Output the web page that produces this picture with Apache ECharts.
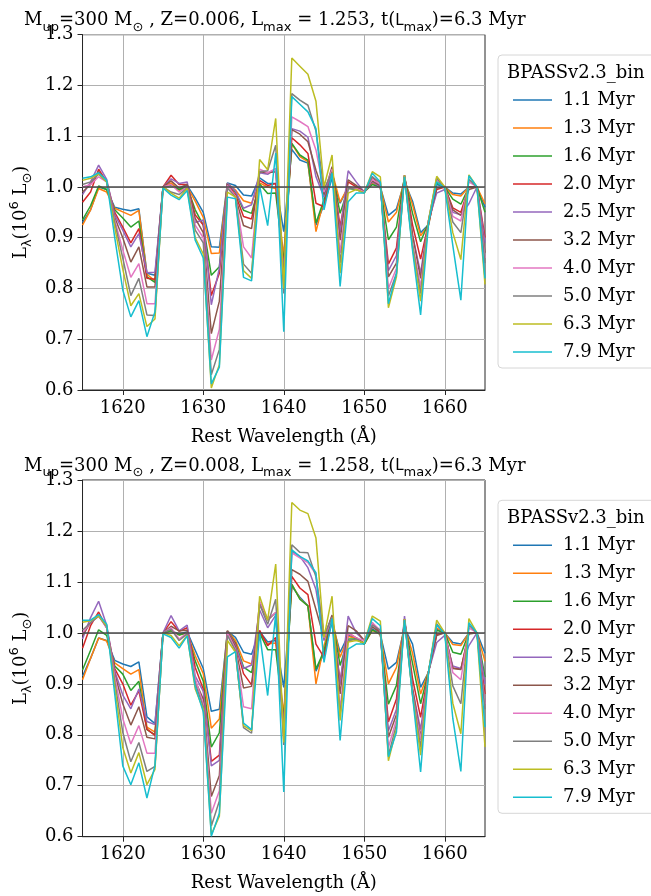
<!DOCTYPE html>
<html>
<head>
<meta charset="utf-8">
<script src="https://cdn.jsdelivr.net/npm/echarts@6/dist/echarts.min.js"></script>
<style>
  html, body { margin: 0; padding: 0; background: #ffffff; }
  #chart { width: 651px; height: 896px; }
</style>
</head>
<body>
<div id="chart"></div>
<script>
// Rest wavelength grid (Angstrom), 1 A sampling
const wavelength = [1615, 1616, 1617, 1618, 1619, 1620, 1621, 1622, 1623, 1624,
  1625, 1626, 1627, 1628, 1629, 1630, 1631, 1632, 1633, 1634,
  1635, 1636, 1637, 1638, 1639, 1640, 1641, 1642, 1643, 1644,
  1645, 1646, 1647, 1648, 1649, 1650, 1651, 1652, 1653, 1654,
  1655, 1656, 1657, 1658, 1659, 1660, 1661, 1662, 1663, 1664, 1665];

const ageLabels = ['1.1 Myr', '1.3 Myr', '1.6 Myr', '2.0 Myr', '2.5 Myr',
  '3.2 Myr', '4.0 Myr', '5.0 Myr', '6.3 Myr', '7.9 Myr'];

const xTicks = [1620, 1630, 1640, 1650, 1660];
const yMin = 0.6, yMax = 1.3, yStep = 0.1;

// ---- Z = 0.006 ----
const z006_t11 = [0.930, 0.955, 1.000, 0.995, 0.960, 0.956, 0.953, 0.957, 0.830, 0.826,
  1.000, 1.006, 0.995, 1.003, 0.978, 0.950, 0.882, 0.881, 1.008, 1.003,
  0.984, 0.982, 1.018, 1.007, 1.007, 0.912, 1.074, 1.053, 1.047, 0.925,
  0.965, 1.017, 0.968, 1.000, 0.997, 0.990, 1.010, 1.000, 0.944, 0.957,
  1.010, 0.972, 0.910, 0.926, 1.005, 1.000, 0.988, 0.986, 1.000, 1.000, 0.960];
const z006_t13 = [0.925, 0.955, 0.997, 0.990, 0.958, 0.951, 0.944, 0.954, 0.828, 0.815,
  1.000, 1.008, 0.993, 1.000, 0.972, 0.940, 0.869, 0.870, 1.007, 0.994,
  0.973, 0.968, 1.008, 1.000, 0.997, 0.865, 1.085, 1.060, 1.050, 0.912,
  0.975, 1.030, 0.970, 1.000, 0.997, 0.990, 1.008, 1.000, 0.931, 0.950,
  1.015, 0.965, 0.904, 0.925, 1.010, 1.000, 0.985, 0.982, 1.000, 1.000, 0.967];
const z006_t16 = [0.935, 0.963, 1.002, 0.995, 0.955, 0.939, 0.921, 0.933, 0.823, 0.812,
  1.000, 1.003, 0.995, 1.000, 0.955, 0.925, 0.826, 0.843, 1.007, 0.990,
  0.954, 0.948, 1.006, 0.987, 0.988, 0.850, 1.086, 1.063, 1.053, 0.929,
  0.975, 1.030, 0.948, 0.997, 0.995, 0.990, 1.005, 1.000, 0.896, 0.921,
  1.020, 0.948, 0.892, 0.930, 1.008, 1.000, 0.976, 0.966, 1.000, 1.000, 0.950];
const z006_t20 = [0.970, 0.990, 1.035, 1.010, 0.950, 0.921, 0.890, 0.918, 0.820, 0.818,
  1.000, 1.023, 1.005, 1.005, 0.945, 0.925, 0.786, 0.830, 1.006, 0.985,
  0.942, 0.937, 1.013, 1.003, 1.007, 0.840, 1.097, 1.083, 1.066, 0.968,
  0.961, 1.035, 0.922, 1.010, 1.000, 0.990, 1.020, 1.000, 0.848, 0.880,
  1.023, 0.925, 0.858, 0.930, 0.995, 1.000, 0.959, 0.950, 1.000, 1.000, 0.900];
const z006_t25 = [0.985, 1.010, 1.043, 1.015, 0.945, 0.915, 0.882, 0.908, 0.831, 0.832,
  1.000, 1.016, 1.007, 1.010, 0.930, 0.935, 0.768, 0.840, 1.007, 0.992,
  0.958, 0.965, 1.028, 1.025, 1.036, 0.830, 1.115, 1.110, 1.098, 1.020,
  0.980, 1.035, 0.910, 1.032, 1.010, 0.990, 1.010, 1.000, 0.835, 0.865,
  1.023, 0.905, 0.830, 0.935, 0.988, 0.995, 0.950, 0.945, 0.967, 1.000, 0.890];
const z006_t32 = [0.990, 1.005, 1.030, 1.010, 0.940, 0.900, 0.852, 0.882, 0.803, 0.803,
  1.000, 1.012, 0.998, 1.005, 0.938, 0.910, 0.711, 0.775, 1.005, 0.980,
  0.924, 0.918, 1.030, 1.028, 1.030, 0.820, 1.113, 1.104, 1.089, 1.033,
  0.985, 1.040, 0.895, 1.014, 1.003, 0.990, 1.012, 1.002, 0.823, 0.850,
  1.023, 0.905, 0.820, 0.935, 0.998, 1.000, 0.955, 0.944, 0.995, 1.000, 0.870];
const z006_t40 = [1.000, 1.005, 1.020, 1.010, 0.935, 0.876, 0.822, 0.849, 0.770, 0.770,
  1.000, 1.005, 0.990, 1.000, 0.925, 0.900, 0.659, 0.720, 1.003, 0.982,
  0.882, 0.860, 1.035, 1.028, 1.036, 0.800, 1.138, 1.129, 1.119, 1.073,
  0.990, 1.035, 0.870, 1.000, 0.997, 0.990, 1.015, 1.005, 0.800, 0.840,
  1.022, 0.890, 0.803, 0.935, 1.015, 1.000, 0.942, 0.933, 1.010, 1.000, 0.860];
const z006_t50 = [1.005, 1.010, 1.025, 1.010, 0.930, 0.860, 0.786, 0.820, 0.748, 0.747,
  1.000, 0.990, 0.985, 0.998, 0.915, 0.890, 0.630, 0.680, 0.998, 0.980,
  0.848, 0.830, 1.030, 1.032, 1.082, 0.790, 1.184, 1.171, 1.161, 1.110,
  0.995, 1.030, 0.850, 0.998, 0.995, 0.988, 1.020, 1.008, 0.785, 0.830,
  1.022, 0.885, 0.790, 0.935, 1.018, 0.997, 0.931, 0.910, 1.015, 1.000, 0.850];
const z006_t63 = [1.013, 1.017, 1.026, 1.010, 0.920, 0.838, 0.766, 0.790, 0.725, 0.740,
  1.000, 0.988, 0.978, 0.997, 0.900, 0.868, 0.604, 0.650, 0.990, 0.980,
  0.835, 0.820, 1.054, 1.034, 1.135, 0.800, 1.254, 1.238, 1.222, 1.169,
  1.000, 1.063, 0.830, 0.988, 0.995, 0.988, 1.030, 1.020, 0.762, 0.823,
  1.023, 0.880, 0.775, 0.935, 1.021, 1.000, 0.910, 0.857, 1.024, 1.000, 0.808];
const z006_t79 = [1.017, 1.020, 1.028, 1.013, 0.900, 0.797, 0.744, 0.776, 0.705, 0.754,
  0.998, 0.984, 0.975, 0.993, 0.895, 0.860, 0.612, 0.645, 0.980, 0.977,
  0.822, 0.815, 1.002, 0.924, 1.067, 0.715, 1.178, 1.163, 1.148, 1.115,
  0.955, 1.027, 0.804, 0.971, 0.988, 0.988, 1.027, 1.010, 0.770, 0.829,
  1.020, 0.875, 0.748, 0.930, 1.010, 0.998, 0.885, 0.777, 1.022, 1.000, 0.820];

// ---- Z = 0.008 ----
const z008_t11 = [0.915, 0.950, 0.990, 0.985, 0.946, 0.939, 0.934, 0.943, 0.835, 0.822,
  1.000, 1.004, 0.998, 1.002, 0.966, 0.930, 0.846, 0.850, 1.003, 0.991,
  0.962, 0.958, 1.003, 0.982, 0.985, 0.893, 1.092, 1.070, 1.053, 0.925,
  0.960, 1.020, 0.962, 0.995, 0.990, 0.978, 1.008, 0.997, 0.929, 0.942,
  1.010, 0.978, 0.893, 0.923, 1.007, 1.000, 0.981, 0.978, 1.000, 1.000, 0.960];
const z008_t13 = [0.908, 0.950, 0.990, 0.984, 0.941, 0.930, 0.919, 0.928, 0.815, 0.805,
  1.000, 1.004, 0.996, 1.000, 0.955, 0.920, 0.813, 0.831, 1.004, 0.985,
  0.945, 0.939, 1.000, 0.978, 0.980, 0.840, 1.095, 1.067, 1.053, 0.900,
  0.975, 1.030, 0.952, 0.993, 0.990, 0.978, 1.005, 0.997, 0.900, 0.932,
  1.015, 0.960, 0.880, 0.925, 1.010, 1.000, 0.977, 0.975, 1.000, 1.000, 0.944];
const z008_t16 = [0.927, 0.966, 1.006, 0.995, 0.935, 0.919, 0.887, 0.905, 0.810, 0.800,
  1.000, 1.004, 0.996, 1.000, 0.945, 0.905, 0.776, 0.804, 1.004, 0.980,
  0.933, 0.922, 1.000, 0.967, 0.967, 0.830, 1.095, 1.066, 1.053, 0.929,
  0.965, 1.030, 0.936, 0.988, 0.988, 0.978, 1.006, 0.997, 0.860, 0.897,
  1.020, 0.940, 0.861, 0.925, 1.005, 1.000, 0.962, 0.958, 1.000, 1.000, 0.913];
const z008_t20 = [0.970, 1.014, 1.041, 1.010, 0.930, 0.900, 0.858, 0.886, 0.811, 0.799,
  1.000, 1.022, 1.003, 1.010, 0.932, 0.890, 0.748, 0.760, 1.003, 0.978,
  0.920, 0.898, 1.005, 0.975, 0.991, 0.820, 1.111, 1.088, 1.075, 0.978,
  0.952, 1.030, 0.905, 1.000, 0.990, 0.980, 1.020, 1.000, 0.825, 0.870,
  1.027, 0.910, 0.834, 0.925, 0.997, 1.000, 0.931, 0.929, 1.000, 1.000, 0.880];
const z008_t25 = [0.988, 1.030, 1.062, 1.015, 0.925, 0.878, 0.851, 0.890, 0.826, 0.820,
  1.000, 1.034, 1.004, 1.015, 0.915, 0.885, 0.739, 0.750, 1.004, 0.975,
  0.930, 0.937, 1.045, 1.010, 1.035, 0.810, 1.160, 1.150, 1.128, 1.085,
  0.985, 1.033, 0.900, 1.033, 1.000, 0.985, 1.012, 1.000, 0.808, 0.850,
  1.033, 0.890, 0.810, 0.925, 0.981, 0.995, 0.935, 0.930, 0.975, 1.000, 0.900];
const z008_t32 = [0.995, 1.020, 1.035, 1.010, 0.920, 0.861, 0.819, 0.855, 0.795, 0.792,
  1.000, 1.013, 1.004, 1.005, 0.906, 0.870, 0.679, 0.720, 1.003, 0.972,
  0.892, 0.895, 1.060, 1.025, 1.040, 0.800, 1.124, 1.115, 1.101, 1.046,
  0.990, 1.035, 0.880, 1.014, 1.004, 0.985, 1.012, 1.000, 0.795, 0.840,
  1.027, 0.890, 0.795, 0.925, 0.995, 1.000, 0.930, 0.928, 0.998, 1.000, 0.860];
const z008_t40 = [1.000, 1.020, 1.033, 1.010, 0.915, 0.832, 0.782, 0.818, 0.764, 0.764,
  1.000, 1.010, 0.988, 1.000, 0.910, 0.860, 0.646, 0.690, 1.000, 0.968,
  0.855, 0.851, 1.062, 1.028, 1.040, 0.790, 1.157, 1.147, 1.138, 1.115,
  0.990, 1.030, 0.850, 1.000, 0.990, 0.985, 1.020, 1.005, 0.775, 0.830,
  1.027, 0.880, 0.790, 0.925, 1.015, 1.000, 0.922, 0.908, 1.010, 1.000, 0.860];
const z008_t50 = [1.005, 1.020, 1.033, 1.012, 0.905, 0.805, 0.747, 0.785, 0.728, 0.738,
  1.000, 1.007, 0.985, 0.998, 0.900, 0.855, 0.621, 0.670, 0.995, 0.965,
  0.814, 0.803, 1.056, 1.017, 1.066, 0.780, 1.173, 1.158, 1.157, 1.110,
  0.995, 1.030, 0.840, 0.984, 0.988, 0.980, 1.015, 1.005, 0.760, 0.820,
  1.027, 0.880, 0.775, 0.925, 1.018, 0.997, 0.896, 0.861, 1.015, 1.000, 0.850];
const z008_t63 = [1.021, 1.024, 1.033, 1.014, 0.895, 0.775, 0.725, 0.765, 0.702, 0.732,
  1.000, 0.995, 0.975, 0.995, 0.890, 0.850, 0.604, 0.640, 0.985, 0.962,
  0.818, 0.808, 1.072, 1.025, 1.135, 0.785, 1.256, 1.241, 1.234, 1.186,
  0.991, 1.072, 0.828, 0.982, 0.985, 0.980, 1.033, 1.023, 0.749, 0.812,
  1.027, 0.877, 0.760, 0.925, 1.025, 1.000, 0.862, 0.802, 1.028, 1.000, 0.776];
const z008_t79 = [1.025, 1.025, 1.036, 1.017, 0.880, 0.739, 0.702, 0.745, 0.676, 0.740,
  0.998, 0.991, 0.970, 0.994, 0.895, 0.845, 0.601, 0.646, 0.953, 0.963,
  0.823, 0.810, 1.000, 0.877, 1.038, 0.688, 1.163, 1.150, 1.141, 1.118,
  0.942, 1.028, 0.789, 0.968, 0.978, 0.978, 1.028, 1.014, 0.757, 0.805,
  1.025, 0.877, 0.727, 0.925, 1.016, 0.998, 0.832, 0.728, 1.020, 1.000, 0.815];

const z006Series = [z006_t11, z006_t13, z006_t16, z006_t20, z006_t25,
  z006_t32, z006_t40, z006_t50, z006_t63, z006_t79];
const z008Series = [z008_t11, z008_t13, z008_t16, z008_t20, z008_t25,
  z008_t32, z008_t40, z008_t50, z008_t63, z008_t79];

const palette = ['#1f77b4', '#ff7f0e', '#2ca02c', '#d62728', '#9467bd',
  '#8c564b', '#e377c2', '#7f7f7f', '#bcbd22', '#17becf'];

const SERIF = 'DejaVu Serif';
const SANS = 'DejaVu Sans';
const FS = 18;

// rich-text styles emulating mathtext sub/superscripts
const richMath = {
  n: { fontFamily: SERIF, fontSize: FS, fontWeight: 'normal', lineHeight: 26, color: '#000', verticalAlign: 'middle' },
  s: { fontFamily: SANS, fontSize: 13, fontWeight: 'normal', lineHeight: 13, color: '#000', verticalAlign: 'bottom' },
  p: { fontFamily: SANS, fontSize: 13, fontWeight: 'normal', lineHeight: 16, color: '#000', verticalAlign: 'top' },
  m: { fontFamily: SANS, fontSize: 15, fontWeight: 'normal', lineHeight: 26, color: '#000', verticalAlign: 'middle' }
};

const panels = [
  { data: z006Series, z: '0.006', lmax: '1.253', tmax: '6.3', top: 34.7, height: 355.3 },
  { data: z008Series, z: '0.008', lmax: '1.258', tmax: '6.3', top: 480, height: 356.7 }
];

const gridLeft = 74, gridWidth = 411;

const option = {
  animation: false,
  backgroundColor: '#ffffff',
  title: [],
  grid: [],
  xAxis: [],
  yAxis: [],
  legend: [],
  graphic: [],
  series: []
};

panels.forEach((p, pi) => {
  option.title.push({
    text: '{n|M}{s|up}{n|=300 M}{s|⊙}{n| , Z=' + p.z + ', L}{s|max}{n| = ' + p.lmax +
          ', t(}{m|L}{s|max}{n|)=' + p.tmax + ' Myr}',
    left: 24,
    top: p.top - 27,
    padding: 0,
    textStyle: { fontWeight: 'normal', rich: richMath }
  });

  option.grid.push({
    left: gridLeft, top: p.top, width: gridWidth, height: p.height,
    show: true, borderColor: '#262626', borderWidth: 1, backgroundColor: 'transparent'
  });

  option.xAxis.push({
    type: 'value', gridIndex: pi,
    min: wavelength[0], max: wavelength[wavelength.length - 1],
    name: 'Rest Wavelength (Å)', nameLocation: 'middle', nameGap: 38,
    nameTextStyle: { fontFamily: SERIF, fontSize: FS, color: '#000' },
    axisLine: { show: true, onZero: false, lineStyle: { color: '#262626', width: 1 } },
    axisTick: { show: true, length: 5, customValues: xTicks, lineStyle: { color: '#262626' } },
    axisLabel: { customValues: xTicks, fontFamily: SERIF, fontSize: FS, color: '#000', margin: 9,
                 formatter: v => String(v) },
    splitLine: { show: true, lineStyle: { color: '#b0b0b0', width: 1 } }
  });

  option.yAxis.push({
    type: 'value', gridIndex: pi,
    min: yMin, max: yMax, interval: yStep,
    name: '{n|L}{s|λ}{n|(10}{p|6}{n| L}{s|⊙}{n|)}',
    nameLocation: 'middle', nameGap: 42, nameRotate: 90,
    nameTextStyle: { rich: richMath },
    axisLine: { show: true, onZero: false, lineStyle: { color: '#262626', width: 1 } },
    axisTick: { show: true, length: 5, lineStyle: { color: '#262626' } },
    axisLabel: { fontFamily: SERIF, fontSize: FS, color: '#000', margin: 9,
                 formatter: v => v.toFixed(1) },
    splitLine: { show: true, lineStyle: { color: '#b0b0b0', width: 1 } }
  });

  p.data.forEach((vals, i) => {
    const s = {
      type: 'line', name: ageLabels[i],
      xAxisIndex: pi, yAxisIndex: pi,
      data: wavelength.map((w, j) => [w, vals[j]]),
      symbol: 'none', showSymbol: false, clip: true,
      lineStyle: { width: 1.5, color: palette[i] },
      itemStyle: { color: palette[i] },
      emphasis: { disabled: true }
    };
    if (i === p.data.length - 1) {
      s.markLine = {
        silent: true, symbol: 'none', animation: false,
        label: { show: false },
        lineStyle: { color: '#4a4a4a', width: 1.5, type: 'solid' },
        data: [{ yAxis: 1 }]
      };
    }
    option.series.push(s);
  });

  const off = p.top - 34.7;
  option.graphic.push({
    type: 'rect', z: 1,
    shape: { x: 498, y: 55 + off, width: 170, height: 313, r: 4 },
    style: { fill: 'rgba(255,255,255,0.8)', stroke: '#d6d6d6', lineWidth: 1 }
  });
  option.graphic.push({
    type: 'text', z: 2,
    style: { text: 'BPASSv2.3_bin', x: 507, y: 73 + off, verticalAlign: 'middle',
             font: FS + 'px "' + SERIF + '"', fill: '#000' }
  });

  option.legend.push({
    data: ageLabels,
    orient: 'vertical',
    left: 513, top: 86 + off,
    padding: 0,
    itemWidth: 39, itemHeight: 1.6, itemGap: 0,
    icon: 'rect',
    selectedMode: false,
    textStyle: { fontFamily: SERIF, fontSize: FS, color: '#000', lineHeight: 28,
                 padding: [0, 0, 0, 6] }
  });
});

const chart = echarts.init(document.getElementById('chart'), null, { renderer: 'canvas' });
chart.setOption(option);
</script>
</body>
</html>
